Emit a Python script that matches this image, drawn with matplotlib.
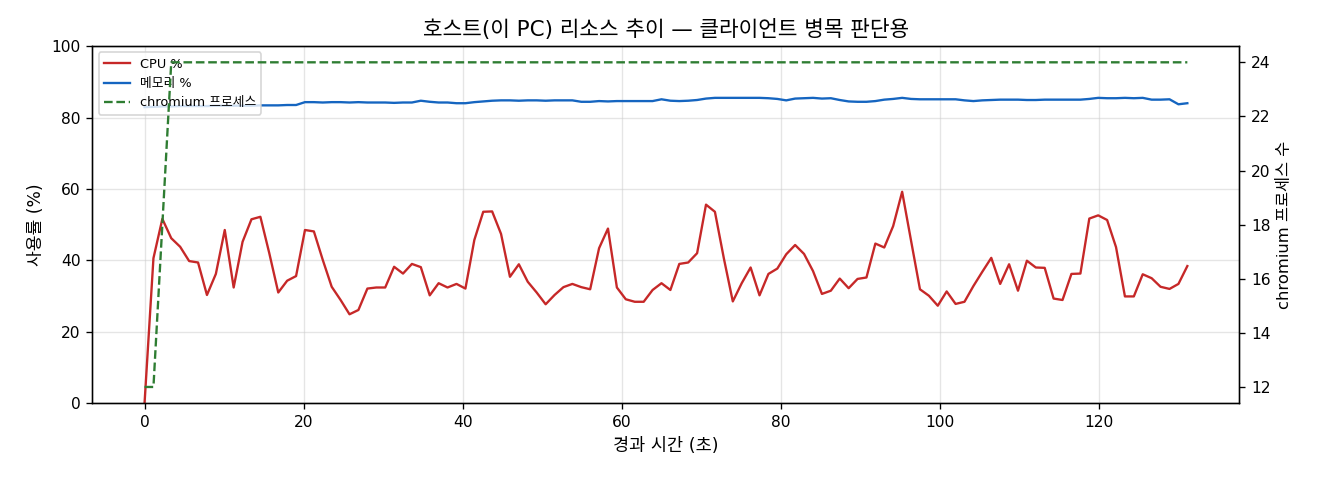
import matplotlib
matplotlib.use("Agg")
import matplotlib.pyplot as plt

# DejaVu for Latin/digits (wide like the original), Noto CJK KR for Hangul
plt.rcParams['font.family'] = ['DejaVu Sans', 'Noto Sans CJK KR']
plt.rcParams['axes.unicode_minus'] = False

# 경과 시간 (초)
elapsed = [
    0.00, 1.12, 2.24, 3.36, 4.48, 5.61, 6.73, 7.85, 8.97, 10.09,
    11.21, 12.33, 13.45, 14.57, 15.69, 16.82, 17.94, 19.06, 20.18, 21.30,
    22.42, 23.54, 24.66, 25.78, 26.90, 28.03, 29.15, 30.27, 31.39, 32.51,
    33.63, 34.75, 35.87, 36.99, 38.11, 39.24, 40.36, 41.48, 42.60, 43.72,
    44.84, 45.96, 47.08, 48.20, 49.32, 50.45, 51.57, 52.69, 53.81, 54.93,
    56.05, 57.17, 58.29, 59.41, 60.53, 61.66, 62.78, 63.90, 65.02, 66.14,
    67.26, 68.38, 69.50, 70.62, 71.74, 72.87, 73.99, 75.11, 76.23, 77.35,
    78.47, 79.59, 80.71, 81.83, 82.95, 84.08, 85.20, 86.32, 87.44, 88.56,
    89.68, 90.80, 91.92, 93.04, 94.16, 95.29, 96.41, 97.53, 98.65, 99.77,
    100.89, 102.01, 103.13, 104.25, 105.37, 106.50, 107.62, 108.74, 109.86, 110.98,
    112.10, 113.22, 114.34, 115.46, 116.58, 117.71, 118.83, 119.95, 121.07, 122.19,
    123.31, 124.43, 125.55, 126.67, 127.79, 128.92, 130.04, 131.16,
]

cpu_pct = [
    0.0, 40.6, 51.6, 46.2, 43.8, 39.8, 39.4, 30.3, 36.2, 48.5,
    32.4, 45.2, 51.5, 52.2, 42.0, 31.0, 34.3, 35.6, 48.5, 48.1,
    40.1, 32.6, 28.9, 24.9, 26.1, 32.1, 32.4, 32.4, 38.2, 36.3,
    39.0, 38.1, 30.2, 33.6, 32.4, 33.4, 32.1, 45.7, 53.6, 53.7,
    47.4, 35.4, 38.9, 34.0, 31.0, 27.7, 30.3, 32.5, 33.4, 32.5,
    31.9, 43.4, 48.9, 32.4, 29.1, 28.4, 28.4, 31.7, 33.6, 31.7,
    39.0, 39.4, 42.0, 55.6, 53.6, 40.5, 28.5, 33.6, 38.0, 30.2,
    36.2, 37.7, 41.7, 44.3, 41.8, 37.0, 30.6, 31.5, 34.9, 32.2,
    34.8, 35.2, 44.7, 43.6, 49.6, 59.2, 45.5, 31.9, 30.1, 27.3,
    31.3, 27.8, 28.4, 32.8, 36.8, 40.7, 33.4, 38.9, 31.5, 39.9,
    38.0, 37.9, 29.3, 28.9, 36.2, 36.3, 51.7, 52.6, 51.3, 43.7,
    29.9, 29.9, 36.1, 35.0, 32.6, 32.0, 33.4, 38.4,
]

mem_pct = [
    82.9, 83.0, 83.1, 83.1, 83.2, 83.2, 83.2, 83.2, 83.3, 83.3,
    83.3, 83.3, 83.3, 83.4, 83.4, 83.4, 83.5, 83.5, 84.3, 84.3,
    84.2, 84.3, 84.3, 84.2, 84.3, 84.2, 84.2, 84.2, 84.1, 84.2,
    84.2, 84.7, 84.4, 84.2, 84.2, 84.0, 84.0, 84.3, 84.5, 84.7,
    84.8, 84.8, 84.7, 84.8, 84.8, 84.7, 84.8, 84.8, 84.8, 84.4,
    84.4, 84.6, 84.5, 84.6, 84.6, 84.6, 84.6, 84.6, 85.1, 84.7,
    84.6, 84.7, 84.9, 85.3, 85.5, 85.5, 85.5, 85.5, 85.5, 85.5,
    85.4, 85.2, 84.8, 85.3, 85.4, 85.5, 85.3, 85.4, 84.9, 84.5,
    84.4, 84.4, 84.6, 85.0, 85.2, 85.5, 85.2, 85.1, 85.1, 85.1,
    85.1, 85.1, 84.8, 84.6, 84.8, 84.9, 85.0, 85.0, 85.0, 84.9,
    84.9, 85.0, 85.0, 85.0, 85.0, 85.0, 85.2, 85.5, 85.4, 85.4,
    85.5, 85.4, 85.5, 85.0, 85.0, 85.1, 83.7, 84.0,
]

chromium_procs = [12, 12, 18] + [24] * 115

fig, ax1 = plt.subplots(figsize=(11, 4), dpi=120)
fig.subplots_adjust(left=0.07, right=0.939, top=0.904, bottom=0.16)

l1, = ax1.plot(elapsed, cpu_pct, color='#c62828', linewidth=1.4, label='CPU %')
l2, = ax1.plot(elapsed, mem_pct, color='#1565c0', linewidth=1.4, label='메모리 %')
ax1.set_ylim(0, 100)
ax1.set_xlabel('경과 시간 (초)', fontsize=10.5)
ax1.set_ylabel('사용률 (%)', fontsize=10.3)
ax1.tick_params(labelsize=9.3)
ax1.grid(True, color='#cccccc', alpha=0.5, linewidth=0.8)

ax2 = ax1.twinx()
l3, = ax2.plot(elapsed, chromium_procs, color='#2e7d32', linewidth=1.4,
               linestyle='--', label='chromium 프로세스')
ax2.set_ylabel('chromium 프로세스 수', fontsize=9.8)
ax2.tick_params(labelsize=9.3)

ax1.legend(handles=[l1, l2, l3], loc='upper left', fontsize=7.7)
ax1.set_title('호스트(이 PC) 리소스 추이 — 클라이언트 병목 판단용', fontsize=12.8)

fig.savefig('out.png', dpi=120)
